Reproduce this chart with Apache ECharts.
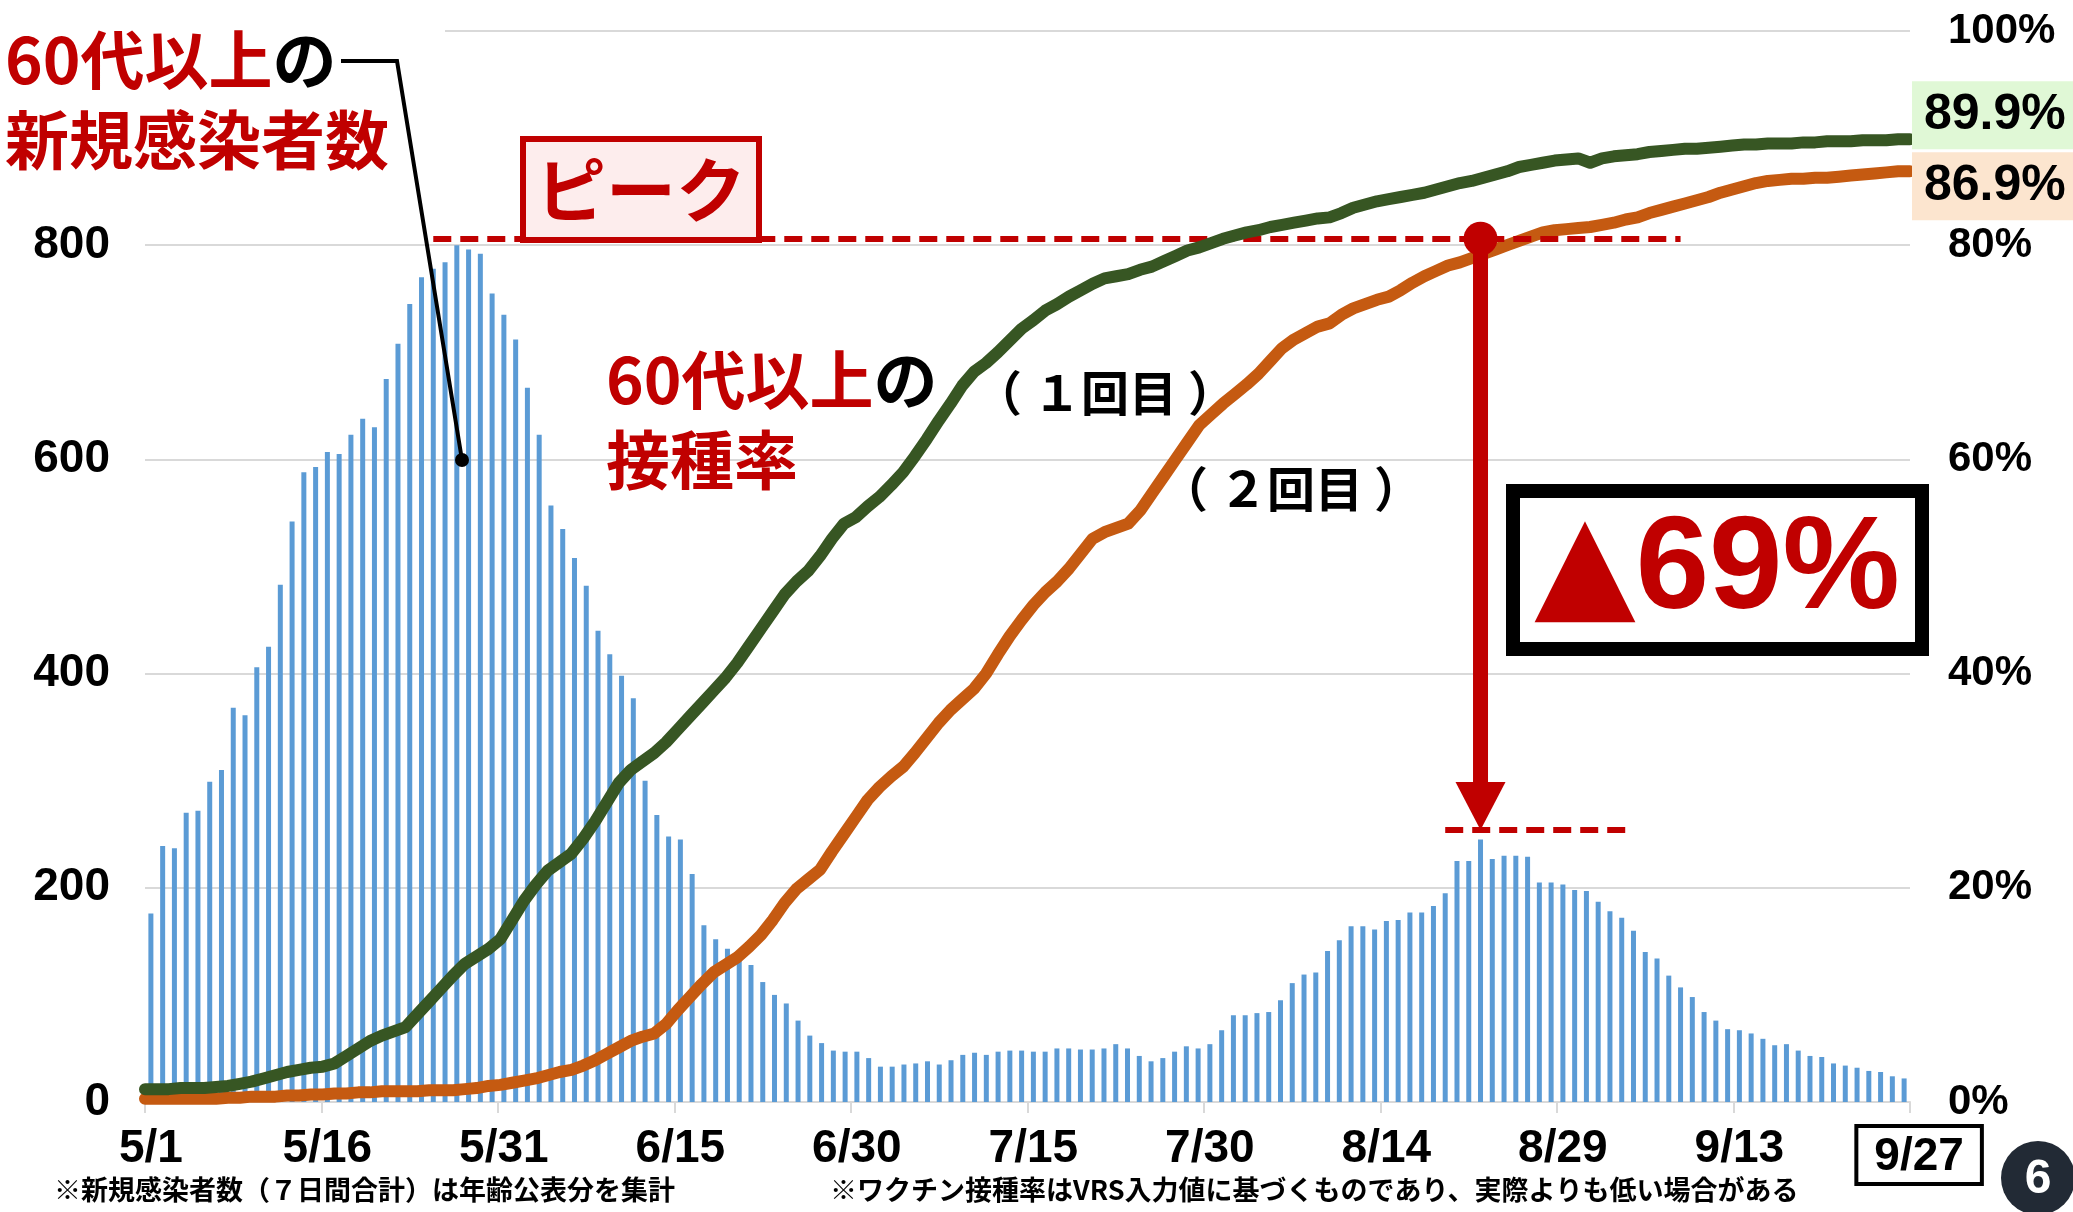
<!DOCTYPE html>
<html lang="ja">
<head>
<meta charset="UTF-8">
<title>60代以上の新規感染者数と接種率</title>
<script src="https://cdn.jsdelivr.net/npm/echarts@6/dist/echarts.min.js"></script>
</head>
<body style="margin:0;background:#fff">
<div id="main" style="width:2073px;height:1212px"></div>
<script>
// dates 5/1 .. 9/27
const dates = [];
for (let t = new Date(2021, 4, 1); dates.length < 150; t.setDate(t.getDate() + 1)) {
    dates.push((t.getMonth() + 1) + '/' + t.getDate());
}

// 60代以上の新規感染者数（7日間合計）
const cases = [
    176,239,237,270,272,299,310,368,361,406,
    425,483,542,588,593,607,605,623,638,630,
    675,708,745,770,778,784,800,796,792,755,
    735,712,667,623,557,535,508,482,440,418,
    398,377,300,268,248,245,213,165,152,143,
    135,128,112,100,92,76,62,55,48,47,
    47,41,33,33,35,36,38,35,39,44,
    46,44,47,48,48,47,47,50,50,49,
    49,50,54,50,43,38,41,47,52,50,
    54,67,81,81,83,84,95,111,119,121,
    141,151,164,164,161,169,170,177,177,183,
    195,225,225,245,227,230,230,229,205,205,
    203,198,197,187,178,172,160,140,134,118,
    107,98,84,76,68,67,64,59,53,54,
    48,43,42,36,34,32,29,28,24,22
];

// 接種率（1回目） %
const dose1 = [
    1.2,1.2,1.2,1.3,1.3,1.3,1.4,1.5,1.7,1.9,
    2.2,2.5,2.8,3.0,3.2,3.3,3.6,4.3,5.0,5.7,
    6.2,6.6,7.0,8.2,9.4,10.6,11.8,12.9,13.6,14.3,
    15.2,17.0,18.8,20.3,21.6,22.4,23.2,24.6,26.2,28.0,
    29.8,31.0,31.8,32.6,33.6,34.8,36.0,37.2,38.4,39.6,
    41.0,42.6,44.2,45.8,47.4,48.6,49.6,51.0,52.6,54.0,
    54.6,55.6,56.5,57.6,58.8,60.3,61.9,63.6,65.2,66.9,
    68.2,69.0,70.0,71.1,72.2,73.0,73.9,74.5,75.2,75.8,
    76.4,76.9,77.1,77.3,77.7,78.0,78.5,79.0,79.5,79.8,
    80.2,80.6,80.9,81.2,81.4,81.7,81.9,82.1,82.3,82.5,
    82.6,83.0,83.5,83.8,84.1,84.3,84.5,84.7,84.9,85.2,
    85.5,85.8,86.0,86.3,86.6,86.9,87.3,87.5,87.7,87.9,
    88.0,88.1,87.7,88.1,88.3,88.4,88.5,88.7,88.8,88.9,
    89.0,89.0,89.1,89.2,89.3,89.4,89.4,89.5,89.5,89.5,
    89.6,89.6,89.7,89.7,89.7,89.8,89.8,89.8,89.9,89.9
];

// 接種率（2回目） %
const dose2 = [
    0.3,0.3,0.3,0.3,0.3,0.3,0.3,0.4,0.4,0.5,
    0.5,0.5,0.6,0.6,0.7,0.7,0.8,0.8,0.9,0.9,
    1.0,1.0,1.0,1.0,1.1,1.1,1.1,1.2,1.3,1.5,
    1.6,1.8,2.0,2.2,2.5,2.8,3.0,3.4,3.9,4.5,
    5.1,5.7,6.1,6.4,7.3,8.6,9.8,11.0,12.1,12.8,
    13.5,14.5,15.6,17.0,18.6,19.9,20.8,21.7,23.4,25.0,
    26.6,28.2,29.4,30.4,31.3,32.6,34.0,35.4,36.6,37.6,
    38.6,40.0,41.8,43.5,45.0,46.4,47.6,48.6,49.8,51.2,
    52.6,53.2,53.6,54.0,55.2,56.8,58.4,60.0,61.6,63.2,
    64.2,65.2,66.1,67.0,68.0,69.2,70.4,71.2,71.8,72.4,
    72.7,73.5,74.1,74.5,74.9,75.2,75.8,76.5,77.1,77.6,
    78.1,78.4,78.8,79.2,79.6,80.0,80.4,80.8,81.2,81.4,
    81.5,81.6,81.7,81.9,82.1,82.4,82.6,83.0,83.3,83.6,
    83.9,84.2,84.5,84.9,85.2,85.5,85.8,86.0,86.1,86.2,
    86.2,86.3,86.3,86.4,86.5,86.6,86.7,86.8,86.9,86.9
];

// annotation levels (bar axis units)
const peakIdx = [24, 130], peakLevel = 806;
const waveIdx = [110, 126], waveLevel = 254;
const arrowIdx = 113;

const NUM = '"Liberation Sans", Arial, sans-serif';
const JP = '"Noto Sans CJK JP", "Noto Sans", sans-serif';
const RED = '#C00000';
const GRID = '#D9D9D9';

let chart = echarts.init(document.getElementById('main'));

let option = {
    animation: false,
    backgroundColor: '#fff',
    grid: {left: 145, right: 163, top: 31, bottom: 110},
    xAxis: [
        {
            type: 'category',
            data: dates,
            boundaryGap: true,
            axisLine: {lineStyle: {color: GRID, width: 2}},
            axisTick: {show: true, interval: 14, length: 11, lineStyle: {color: GRID, width: 2}},
            axisLabel: {
                interval: function (i) { return i % 15 === 0 || i === dates.length - 1; },
                margin: 24,
                color: '#000',
                fontSize: 46,
                fontWeight: 'bold',
                fontFamily: NUM,
                formatter: function (v, i) {
                    return i === dates.length - 1 ? '{sp|}{box|' + v + '}' : v;
                },
                rich: {
                    sp: {width: 30, fontSize: 46},
                    box: {
                        color: '#000', fontSize: 46, fontWeight: 'bold', fontFamily: NUM,
                        borderColor: '#000', borderWidth: 4, padding: [8, 18, 4, 18]
                    }
                }
            }
        },
        {
            type: 'category',
            data: dates,
            boundaryGap: false,
            show: false
        }
    ],
    yAxis: [
        {
            type: 'value',
            min: 0, max: 1000, interval: 200,
            axisLine: {show: false},
            axisTick: {show: false},
            splitLine: {lineStyle: {color: GRID, width: 2}},
            axisLabel: {
                margin: 35, color: '#000', fontSize: 46, fontWeight: 'bold', fontFamily: NUM,
                formatter: function (v) { return v === 1000 ? '' : v; }
            }
        },
        {
            type: 'value',
            position: 'right',
            min: 0, max: 100, interval: 20,
            axisLine: {show: false},
            axisTick: {show: false},
            splitLine: {show: false},
            axisLabel: {
                margin: 38, color: '#000', fontSize: 42, fontWeight: 'bold', fontFamily: NUM,
                formatter: '{value}%'
            }
        }
    ],
    series: [
        {
            name: '新規感染者数',
            type: 'bar',
            xAxisIndex: 0, yAxisIndex: 0,
            data: cases,
            barWidth: 5,
            itemStyle: {color: '#5B9BD5'},
            markLine: {
                silent: true,
                symbol: 'none',
                label: {show: false},
                lineStyle: {color: RED, width: 6, type: [18, 9]},
                data: [
                    [{coord: [peakIdx[0], peakLevel]}, {coord: [peakIdx[1], peakLevel]}],
                    [{coord: [waveIdx[0], waveLevel]}, {coord: [waveIdx[1], waveLevel]}]
                ]
            }
        },
        {
            name: '2回目',
            type: 'line',
            xAxisIndex: 1, yAxisIndex: 1,
            data: dose2,
            symbol: 'none',
            z: 4,
            lineStyle: {color: '#C55A11', width: 12, cap: 'round', join: 'round'},
            endLabel: {
                show: true,
                distance: 2,
                offset: [0, 15],
                formatter: function (p) { return p.value.toFixed(1) + '%'; },
                color: '#000', fontSize: 50, fontWeight: 'bold', fontFamily: NUM,
                backgroundColor: '#FCE5CF',
                padding: [10, 14, 8, 12]
            }
        },
        {
            name: '1回目',
            type: 'line',
            xAxisIndex: 1, yAxisIndex: 1,
            data: dose1,
            symbol: 'none',
            z: 5,
            lineStyle: {color: '#375623', width: 12, cap: 'round', join: 'round'},
            endLabel: {
                show: true,
                distance: 2,
                offset: [0, -24],
                formatter: function (p) { return p.value.toFixed(1) + '%'; },
                color: '#000', fontSize: 50, fontWeight: 'bold', fontFamily: NUM,
                backgroundColor: '#E0F8D6',
                padding: [10, 14, 8, 12]
            }
        }
    ]
};
chart.setOption(option);

// arrow from the peak level down to the second wave level
let arrowTop = chart.convertToPixel({seriesIndex: 0}, [arrowIdx, peakLevel]);
let arrowTip = chart.convertToPixel({seriesIndex: 0}, [arrowIdx, waveLevel]);
let ax = arrowTop[0];
let headH = 48, headW = 25;

chart.setOption({
    graphic: [
        // white patch behind title
        {type: 'rect', z: 10, shape: {x: 0, y: 0, width: 445, height: 190}, style: {fill: '#fff'}},
        {
            type: 'text', z: 11, x: 5, y: 20,
            style: {
                text: '{r|60代以上}{k|の}\n{r|新規感染者数}',
                fontFamily: JP, fontSize: 64, fontWeight: 'bold', lineHeight: 80,
                rich: {
                    r: {fill: RED, fontFamily: JP, fontSize: 64, fontWeight: 'bold', lineHeight: 80},
                    k: {fill: '#000', fontFamily: JP, fontSize: 64, fontWeight: 'bold', lineHeight: 80}
                }
            }
        },
        {
            type: 'polyline', z: 12,
            shape: {points: [[341, 61], [397, 61], [462, 460]]},
            style: {stroke: '#000', lineWidth: 4, fill: null}
        },
        {type: 'circle', z: 12, shape: {cx: 462, cy: 460, r: 7}, style: {fill: '#000'}},

        // ピーク
        {
            type: 'rect', z: 11,
            shape: {x: 523, y: 139, width: 236, height: 101},
            style: {fill: '#FDEDED', stroke: RED, lineWidth: 6}
        },
        {
            type: 'text', z: 12, x: 641, y: 190,
            style: {
                text: 'ピーク', fill: RED, fontFamily: JP, fontSize: 70, fontWeight: 'bold',
                align: 'center', verticalAlign: 'middle'
            }
        },

        // 接種率 label
        {
            type: 'text', z: 11, x: 606, y: 340,
            style: {
                text: '{r|60代以上}{k|の}\n{r|接種率}',
                fontFamily: JP, fontSize: 64, fontWeight: 'bold', lineHeight: 80,
                rich: {
                    r: {fill: RED, fontFamily: JP, fontSize: 64, fontWeight: 'bold', lineHeight: 80},
                    k: {fill: '#000', fontFamily: JP, fontSize: 64, fontWeight: 'bold', lineHeight: 80}
                }
            }
        },
        {
            type: 'text', z: 11, x: 1105, y: 393,
            style: {
                text: '（ １回目 ）', fill: '#000', fontFamily: JP, fontSize: 48, fontWeight: 'bold',
                align: 'center', verticalAlign: 'middle'
            }
        },
        {
            type: 'text', z: 11, x: 1291, y: 489,
            style: {
                text: '（ ２回目 ）', fill: '#000', fontFamily: JP, fontSize: 48, fontWeight: 'bold',
                align: 'center', verticalAlign: 'middle'
            }
        },

        // red arrow
        {
            type: 'line', z: 13,
            shape: {x1: ax, y1: arrowTop[1], x2: ax, y2: arrowTip[1] - headH + 2},
            style: {stroke: RED, lineWidth: 15}
        },
        {type: 'circle', z: 13, shape: {cx: ax, cy: arrowTop[1], r: 17}, style: {fill: RED}},
        {
            type: 'polygon', z: 13,
            shape: {points: [[ax - headW, arrowTip[1] - headH], [ax + headW, arrowTip[1] - headH], [ax, arrowTip[1]]]},
            style: {fill: RED}
        },

        // ▲69% box
        {
            type: 'rect', z: 11,
            shape: {x: 1513, y: 491, width: 409, height: 158},
            style: {fill: '#fff', stroke: '#000', lineWidth: 14}
        },
        {
            type: 'text', z: 12, x: 1717, y: 572,
            style: {
                text: '{t|▲}{n|69%}',
                align: 'center', verticalAlign: 'middle',
                rich: {
                    t: {fill: RED, fontFamily: '"DejaVu Sans", sans-serif', fontSize: 132},
                    n: {fill: RED, fontFamily: NUM, fontSize: 132, fontWeight: 'bold'}
                }
            }
        },

        // footnotes
        {
            type: 'text', z: 11, x: 54, y: 1190,
            style: {
                text: '※新規感染者数（７日間合計）は年齢公表分を集計', fill: '#000',
                fontFamily: JP, fontSize: 27, fontWeight: 'bold', verticalAlign: 'middle'
            }
        },
        {
            type: 'text', z: 11, x: 830, y: 1190,
            style: {
                text: '※ワクチン接種率はVRS入力値に基づくものであり、実際よりも低い場合がある', fill: '#000',
                fontFamily: JP, fontSize: 27, fontWeight: 'bold', verticalAlign: 'middle'
            }
        },

        // page number
        {type: 'circle', z: 11, shape: {cx: 2038, cy: 1178, r: 37}, style: {fill: '#222A35'}},
        {
            type: 'text', z: 12, x: 2038, y: 1180,
            style: {
                text: '6', fill: '#fff', fontFamily: NUM, fontSize: 48, fontWeight: 'bold',
                align: 'center', verticalAlign: 'middle'
            }
        }
    ]
});
</script>
</body>
</html>
